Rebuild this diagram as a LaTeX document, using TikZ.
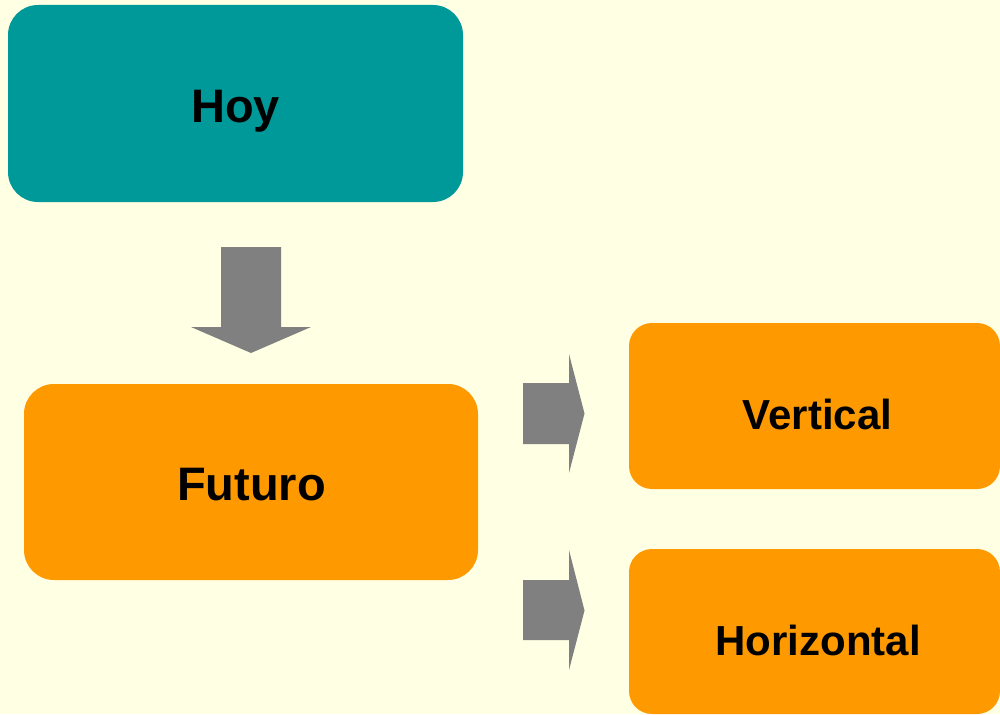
\documentclass[tikz,border=0pt]{standalone}
\usepackage{fontspec}
\setmainfont{Liberation Sans}
\definecolor{bgc}{HTML}{FFFFE4}
\definecolor{tealc}{HTML}{009999}
\definecolor{orangec}{HTML}{FF9900}
\definecolor{grayc}{HTML}{808080}
\begin{document}
\begin{tikzpicture}[x=1pt,y=-1pt,
  box/.style={draw=none, rectangle, inner sep=0pt, outer sep=0pt},
  bigbox/.style={box, rounded corners=30pt},
  smallbox/.style={box, rounded corners=23pt},
  biglbl/.style={anchor=base, inner sep=0pt, font=\fontsize{47}{56}\selectfont\bfseries},
  smalllbl/.style={anchor=base, inner sep=0pt, font=\fontsize{42}{50}\selectfont\bfseries},
  blockarrow/.style={fill=grayc, draw=none}]
\fill[bgc] (0,0) rectangle (1000,714);
\useasboundingbox (0,0) rectangle (1000,714);
% boxes
\node[bigbox, fill=tealc, minimum width=455pt, minimum height=197pt] (hoy) at (235.5,103.5) {};
\node[bigbox, fill=orangec, minimum width=454pt, minimum height=196pt] (futuro) at (251,482) {};
\node[smallbox, fill=orangec, minimum width=371pt, minimum height=166pt] (vertical) at (814.5,406) {};
\node[smallbox, fill=orangec, minimum width=371pt, minimum height=165pt] (horizontal) at (814.5,631.5) {};
% labels
\node[biglbl] (hoyt) at (235.5,123) {Hoy};
\node[biglbl] (futurot) at (251.5,500) {Futuro};
\node[smalllbl] (verticalt) at (817.5,429.5) {Vertical};
\node[smalllbl] (horizontalt) at (818,655.5) {Horizontal};
% block arrows
\fill[blockarrow] (221,247) -- (281,247) -- (281,327) -- (311,327) -- (251,353) -- (191,327) -- (221,327) -- cycle;
\fill[blockarrow] (523,383) -- (569,383) -- (569,354) -- (584.5,413.5) -- (569,473) -- (569,444) -- (523,444) -- cycle;
\fill[blockarrow] (523,580) -- (569,580) -- (569,550) -- (584.5,610.5) -- (569,670) -- (569,640) -- (523,640) -- cycle;
\end{tikzpicture}
\end{document}
